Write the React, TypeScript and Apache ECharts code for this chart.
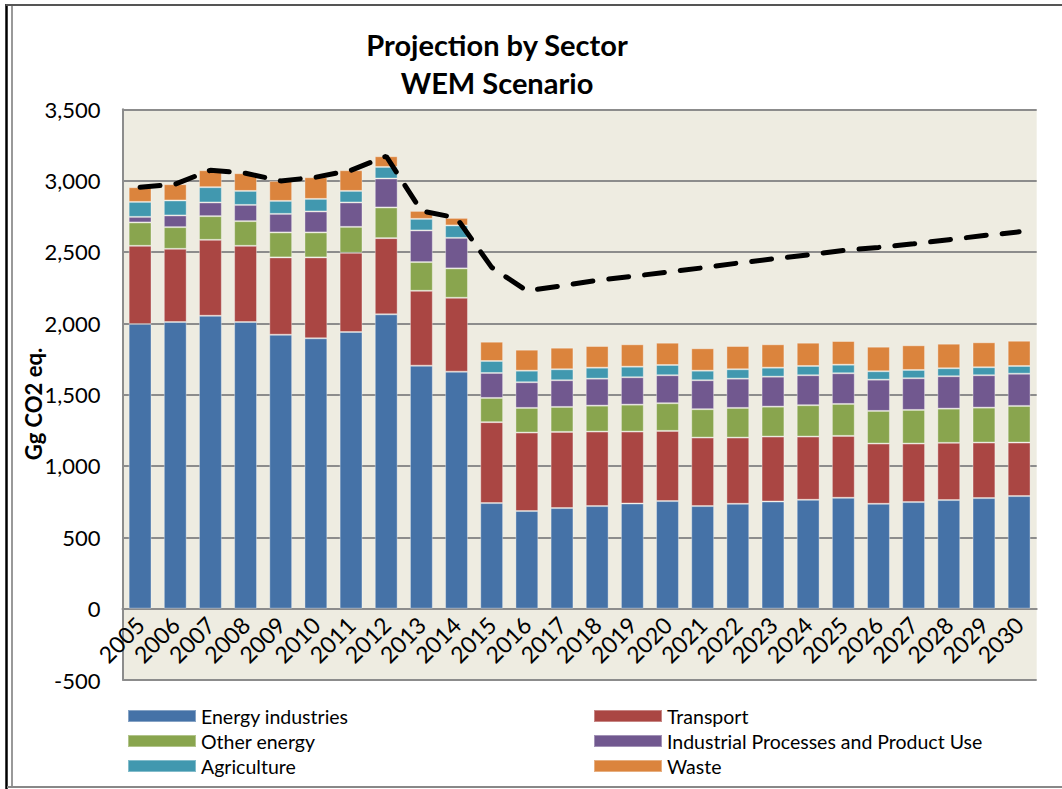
import React, { useEffect, useRef } from "react";
import * as echarts from "echarts";

const years = ["2005","2006","2007","2008","2009","2010","2011","2012","2013","2014","2015","2016","2017","2018","2019","2020","2021","2022","2023","2024","2025","2026","2027","2028","2029","2030"];
const energyIndustries = [1995, 2009, 2053, 2009, 1920, 1895, 1939, 2063, 1703, 1661, 740, 684, 705, 719, 737, 754, 719, 735, 751, 763, 777, 735, 747, 761, 775, 789];
const transport = [548, 513, 532, 534, 542, 567, 555, 534, 525, 518, 567, 550, 534, 522, 504, 492, 480, 464, 455, 443, 434, 422, 410, 401, 389, 375];
const otherEnergy = [164, 152, 166, 173, 175, 175, 182, 215, 201, 206, 170, 173, 175, 182, 189, 194, 199, 208, 210, 220, 224, 229, 236, 240, 245, 257];
const ippu = [39, 82, 96, 114, 130, 147, 171, 203, 222, 214, 175, 180, 187, 189, 192, 196, 203, 205, 210, 210, 215, 219, 222, 227, 227, 226];
const agriculture = [105, 105, 107, 98, 91, 88, 81, 81, 81, 87, 84, 81, 77, 77, 74, 72, 67, 66, 63, 65, 60, 59, 58, 56, 56, 54];
const waste = [103, 114, 119, 124, 140, 152, 145, 75, 56, 53, 135, 147, 151, 152, 157, 156, 157, 163, 164, 163, 166, 172, 173, 172, 175, 177];
const wemTotal = [2954, 2975, 3073, 3052, 2998, 3024, 3073, 3171, 2788, 2739, 2392, 2228, 2263, 2301, 2329, 2359, 2389, 2422, 2452, 2480, 2511, 2532, 2557, 2586, 2615, 2641];

const seriesNames = ["Energy industries", "Transport", "Other energy", "Industrial Processes and Product Use", "Agriculture", "Waste"];
const seriesData = [energyIndustries, transport, otherEnergy, ippu, agriculture, waste];
const colors = ["#4572A7", "#AA4643", "#89A54E", "#71588F", "#4198AF", "#DB843D"];

const FONT = "Lato, 'Noto Sans', sans-serif";

const GRID_TOP = 109.3;
const GRID_BOTTOM_PX = 680;
const Y_MIN = -500;
const Y_MAX = 3500;

export default function App() {
  const ref = useRef<HTMLDivElement>(null);
  useEffect(() => {
    if (!ref.current) return;
    const chart = echarts.init(ref.current, null, { renderer: "svg" });
    const bars = seriesNames.map((name, i) => ({
      name,
      type: "bar",
      stack: "total",
      data: seriesData[i],
      barCategoryGap: "35%",
      itemStyle: { color: colors[i], borderColor: "rgba(255,255,255,0.35)", borderWidth: 1 },
      z: 2,
    }));
    // distance between the grid bottom (Y_MIN) and the zero line
    const zeroOffset = ((GRID_BOTTOM_PX - GRID_TOP) / (Y_MAX - Y_MIN)) * (0 - Y_MIN);
    const legendText = { fontFamily: FONT, fontSize: 19.5, color: "#000", lineHeight: 20 };
    chart.setOption({
      animation: false,
      textStyle: { fontFamily: FONT },
      grid: { left: 122.5, right: 25.3, top: GRID_TOP, bottom: 789 - GRID_BOTTOM_PX, containLabel: false, show: true, backgroundColor: "#EEECE1", borderWidth: 0 },
      legend: [
        {
          data: [seriesNames[0], seriesNames[2], seriesNames[4]],
          orient: "vertical",
          left: 122,
          top: 701,
          itemWidth: 68,
          itemHeight: 12,
          itemGap: 5,
          icon: "rect",
          textStyle: legendText,
        },
        {
          data: [seriesNames[1], seriesNames[3], seriesNames[5]],
          orient: "vertical",
          left: 588,
          top: 701,
          itemWidth: 68,
          itemHeight: 12,
          itemGap: 5,
          icon: "rect",
          textStyle: legendText,
        },
      ],
      xAxis: {
        type: "category",
        data: years,
        offset: -zeroOffset,
        axisLine: { onZero: false, lineStyle: { color: "#8C8C8C", width: 2 } },
        axisTick: { show: false },
        axisLabel: { interval: 0, rotate: 45, margin: 12, fontSize: 23, color: "#000", fontFamily: FONT },
      },
      yAxis: {
        type: "value",
        min: Y_MIN,
        max: Y_MAX,
        interval: 500,
        axisLine: { show: true, lineStyle: { color: "#8C8C8C", width: 2 } },
        axisTick: { show: false },
        splitLine: { show: true, lineStyle: { color: "#8C8C8C", width: 2 } },
        axisLabel: {
          margin: 22,
          fontSize: 22,
          color: "#000",
          fontFamily: FONT,
          formatter: (v: number) => v.toLocaleString("en-US"),
        },
      },
      series: [
        ...bars,
        {
          name: "WEM",
          type: "line",
          data: wemTotal,
          symbol: "none",
          z: 5,
          lineStyle: { color: "#000", width: 5, type: [20, 16], cap: "round" },
        },
      ],
      graphic: [
        { type: "text", x: 497, y: 44, style: { text: "Projection by Sector", font: `bold 29px ${FONT}`, fill: "#000", textAlign: "center", textVerticalAlign: "middle" } },
        { type: "text", x: 497, y: 82, style: { text: "WEM Scenario", font: `bold 29px ${FONT}`, fill: "#000", textAlign: "center", textVerticalAlign: "middle" } },
        { type: "text", x: 33, y: 404, rotation: Math.PI / 2, style: { text: "Gg CO2 eq.", font: `bold 22px ${FONT}`, fill: "#000", textAlign: "center", textVerticalAlign: "middle" } },
        { type: "line", shape: { x1: 6.5, y1: 4, x2: 6.5, y2: 789 }, style: { stroke: "#000", lineWidth: 2.5 } },
        { type: "line", shape: { x1: 6, y1: 5, x2: 1062, y2: 5 }, style: { stroke: "#555", lineWidth: 2 } },
        { type: "line", shape: { x1: 12, y1: 6, x2: 12, y2: 787 }, style: { stroke: "#999", lineWidth: 2 } },
        { type: "line", shape: { x1: 7, y1: 787, x2: 1062, y2: 787 }, style: { stroke: "#888", lineWidth: 2 } },
      ],
    });
    return () => chart.dispose();
  }, []);
  return <div ref={ref} style={{ position: "absolute", left: 0, top: 0, width: 1062, height: 789 }} />;
}
